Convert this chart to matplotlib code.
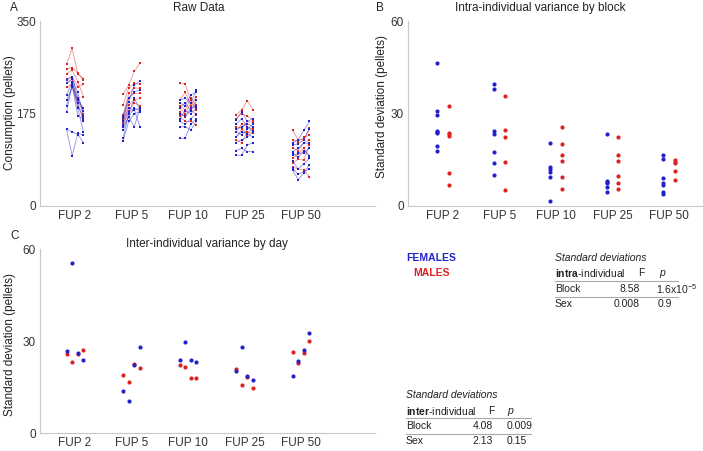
import numpy as np
import matplotlib.pyplot as plt

plt.rcParams['font.family'] = ['Liberation Sans', 'DejaVu Sans']
plt.rcParams['mathtext.fontset'] = 'custom'
plt.rcParams['mathtext.rm'] = 'Liberation Sans'
plt.rcParams['mathtext.bf'] = 'Liberation Sans:bold'
plt.rcParams['mathtext.it'] = 'Liberation Sans:italic'

blocks = ['FUP 2', 'FUP 5', 'FUP 10', 'FUP 25', 'FUP 50']

# raw consumption, one row per animal, 4 days per block
fem_fup2 = [[238, 245, 205, 180], [232, 240, 215, 170], [210, 235, 200, 185], [200, 225, 195, 160],
            [190, 228, 170, 165], [178, 230, 185, 140], [145, 140, 135, 120], [145, 95, 138, 134]]
mal_fup2 = [[268, 298, 250, 241], [259, 262, 251, 238], [250, 257, 235, 207],
            [240, 245, 226, 230], [232, 240, 188, 168], [225, 230, 200, 175]]
fem_fup5 = [[166, 197, 229, 236], [170, 205, 216, 220], [153, 178, 182, 185], [144, 169, 185, 180],
            [128, 175, 204, 182], [123, 160, 175, 178], [150, 168, 150, 185], [160, 185, 182, 150]]
mal_fup5 = [[211, 229, 255, 270], [191, 223, 232, 230], [172, 213, 223, 223],
            [163, 204, 213, 213], [159, 191, 200, 204], [156, 180, 195, 190]]
fem_fup10 = [[200, 204, 195, 219], [195, 190, 210, 216], [185, 195, 180, 200], [175, 170, 185, 190],
             [165, 180, 175, 185], [160, 155, 165, 175], [150, 150, 144, 160], [128, 128, 155, 165]]
mal_fup10 = [[233, 230, 200, 185], [200, 215, 190, 207], [190, 182, 205, 191],
             [185, 175, 195, 182], [178, 168, 182, 172], [170, 160, 160, 153]]
fem_fup25 = [[163, 178, 160, 165], [155, 165, 150, 141], [145, 150, 156, 150], [140, 135, 145, 155],
             [131, 140, 137, 130], [120, 125, 130, 140], [105, 109, 103, 103], [96, 96, 115, 120]]
mal_fup25 = [[172, 182, 199, 182], [165, 175, 170, 163], [150, 147, 160, 158],
             [140, 155, 150, 145], [130, 145, 135, 150], [125, 120, 140, 138]]
fem_fup50 = [[120, 125, 143, 160], [115, 118, 125, 145], [103, 109, 119, 119], [96, 100, 100, 110],
             [100, 92, 105, 95], [85, 70, 80, 90], [68, 50, 62, 78], [72, 60, 65, 70]]
mal_fup50 = [[144, 125, 126, 147], [125, 122, 130, 134], [110, 105, 120, 125],
             [90, 98, 110, 93], [81, 88, 87, 115], [74, 70, 68, 55]]

raw_fem = [fem_fup2, fem_fup5, fem_fup10, fem_fup25, fem_fup50]
raw_mal = [mal_fup2, mal_fup5, mal_fup10, mal_fup25, mal_fup50]

# intra-individual SD per block
intra_fem = [[46.3, 30.7, 29.4, 24.3, 23.8, 24.0, 19.5, 17.8],
             [39.5, 38.0, 24.4, 23.4, 17.4, 14.1, 10.1],
             [20.5, 12.6, 12.0, 11.1, 9.5, 1.7],
             [23.4, 8.2, 7.7, 7.4, 6.1, 4.6],
             [16.5, 15.2, 9.2, 7.4, 6.8, 4.6, 3.8]]
intra_mal = [[32.4, 23.8, 23.2, 22.8, 10.6, 6.8],
             [35.7, 24.6, 22.5, 14.3, 5.2],
             [25.7, 20.1, 16.6, 14.7, 9.5, 5.5],
             [22.5, 16.4, 14.7, 9.8, 7.5, 5.6],
             [14.9, 14.4, 13.8, 11.4, 8.3]]

# inter-individual SD per day (4 days per block)
inter_fem = [[26.6, 55.4, 26.2, 23.9],
             [13.6, 10.4, 22.2, 27.9],
             [23.8, 29.6, 23.8, 23.3],
             [20.1, 27.9, 18.5, 17.3],
             [18.5, 23.4, 27.0, 32.6]]
inter_mal = [[25.8, 23.0, 25.8, 27.0],
             [18.8, 16.7, 22.6, 21.3],
             [22.1, 21.6, 17.9, 17.8],
             [21.0, 15.5, 18.3, 14.8],
             [26.4, 22.7, 26.1, 30.0]]

BLUE = '#2222cc'
RED = '#dd2222'
GREY = '#c8c8c8'
W, H = 703, 451
days = [-0.15, -0.05, 0.05, 0.15]


def px_axes(fig, left, right, top, bottom):
    return fig.add_axes([left / W, 1 - bottom / H, (right - left) / W, (bottom - top) / H])


def style(ax, ymax, yticks, xmax):
    ax.set_xlim(0.38, xmax)
    ax.set_ylim(0, ymax)
    ax.set_yticks(yticks)
    ax.set_xticks(range(1, 6))
    ax.set_xticklabels(blocks)
    for s in ['top', 'right']:
        ax.spines[s].set_visible(False)
    for s in ['left', 'bottom']:
        ax.spines[s].set_color(GREY)
        ax.spines[s].set_linewidth(0.8)
    ax.tick_params(length=0, labelsize=8.5, colors='#333333', pad=3)


def ftext(x, y, s, **kw):
    kw.setdefault('fontsize', 8.5)
    kw.setdefault('va', 'center')
    kw.setdefault('color', '#222222')
    plt.figtext(x / W, 1 - y / H, s, **kw)


def hline(fig, x0, x1, y):
    fig.add_artist(plt.Line2D([x0 / W, x1 / W], [1 - y / H, 1 - y / H],
                              color='#aaaaaa', lw=0.8, transform=fig.transFigure))


fig = plt.figure(figsize=(W / 100, H / 100), dpi=100)

# A: raw data
ax = px_axes(fig, 40, 375, 21, 206)
for b in range(5):
    xs = [b + 1 + d for d in days]
    for row in raw_mal[b]:
        ax.plot(xs, row, '-', color=RED, lw=0.6, alpha=0.5)
        ax.plot(xs, row, 's', color=RED, ms=1.8, mew=0)
    for row in raw_fem[b]:
        ax.plot(xs, row, '-', color=BLUE, lw=0.6, alpha=0.5)
        ax.plot(xs, row, 's', color=BLUE, ms=1.8, mew=0)
style(ax, 350, [0, 175, 350], 6.31)
ftext(10, 113, 'Consumption (pellets)', rotation=90, ha='center')

# B: intra-individual SD
ax = px_axes(fig, 408, 703, 21, 206)
for b in range(5):
    ax.plot([b + 0.9] * len(intra_fem[b]), intra_fem[b], 'o', color=BLUE, ms=3, mew=0)
    ax.plot([b + 1.1] * len(intra_mal[b]), intra_mal[b], 'o', color=RED, ms=3, mew=0)
style(ax, 60, [0, 30, 60], 5.6)
ftext(382, 106, 'Standard deviation (pellets)', rotation=90, ha='center')

# C: inter-individual SD
ax = px_axes(fig, 40, 375, 249, 433)
for b in range(5):
    xs = [b + 1 + d for d in days]
    ax.plot(xs, inter_mal[b], 'o', color=RED, ms=3, mew=0)
    ax.plot(xs, inter_fem[b], 'o', color=BLUE, ms=3, mew=0)
style(ax, 60, [0, 30, 60], 6.31)
ftext(10, 344, 'Standard deviation (pellets)', rotation=90, ha='center')

# panel letters and titles
ftext(10, 8, 'A', fontsize=8.5)
ftext(376, 8, 'B', fontsize=8.5)
ftext(10, 236, 'C', fontsize=8.5)
ftext(199, 8, 'Raw Data', ha='center')
ftext(540, 8, 'Intra-individual variance by block', ha='center')
ftext(207, 244, 'Inter-individual variance by day', ha='center')

# legend
ftext(406, 258, 'FEMALES', color=BLUE, fontweight='bold', fontsize=7.5)
ftext(413, 273, 'MALES', color=RED, fontweight='bold', fontsize=7.5)

# table intra
fs = 7.5
ftext(555, 258, 'Standard deviations', style='italic', fontsize=fs)
ftext(555, 273, r'$\mathbf{intra}$-individual', fontsize=fs)
ftext(641, 273, 'F', ha='center', fontsize=fs)
ftext(659, 273, 'p', style='italic', fontsize=fs)
hline(fig, 555, 678, 281)
ftext(555, 289, 'Block', fontsize=fs)
ftext(640, 289, '8.58', ha='right', fontsize=fs)
ftext(656, 289, r'1.6x10$^{-5}$', fontsize=fs)
hline(fig, 555, 678, 297)
ftext(555, 304, 'Sex', fontsize=fs)
ftext(640, 304, '0.008', ha='right', fontsize=fs)
ftext(658, 304, '0.9', fontsize=fs)

# table inter
ftext(406, 395, 'Standard deviations', style='italic', fontsize=fs)
ftext(406, 411, r'$\mathbf{inter}$-individual', fontsize=fs)
ftext(491, 411, 'F', ha='center', fontsize=fs)
ftext(507, 411, 'p', style='italic', fontsize=fs)
hline(fig, 406, 531, 418)
ftext(406, 426, 'Block', fontsize=fs)
ftext(493, 426, '4.08', ha='right', fontsize=fs)
ftext(507, 426, '0.009', fontsize=fs)
hline(fig, 406, 531, 434)
ftext(406, 441, 'Sex', fontsize=fs)
ftext(493, 441, '2.13', ha='right', fontsize=fs)
ftext(507, 441, '0.15', fontsize=fs)

plt.savefig('out.png', dpi=100)
